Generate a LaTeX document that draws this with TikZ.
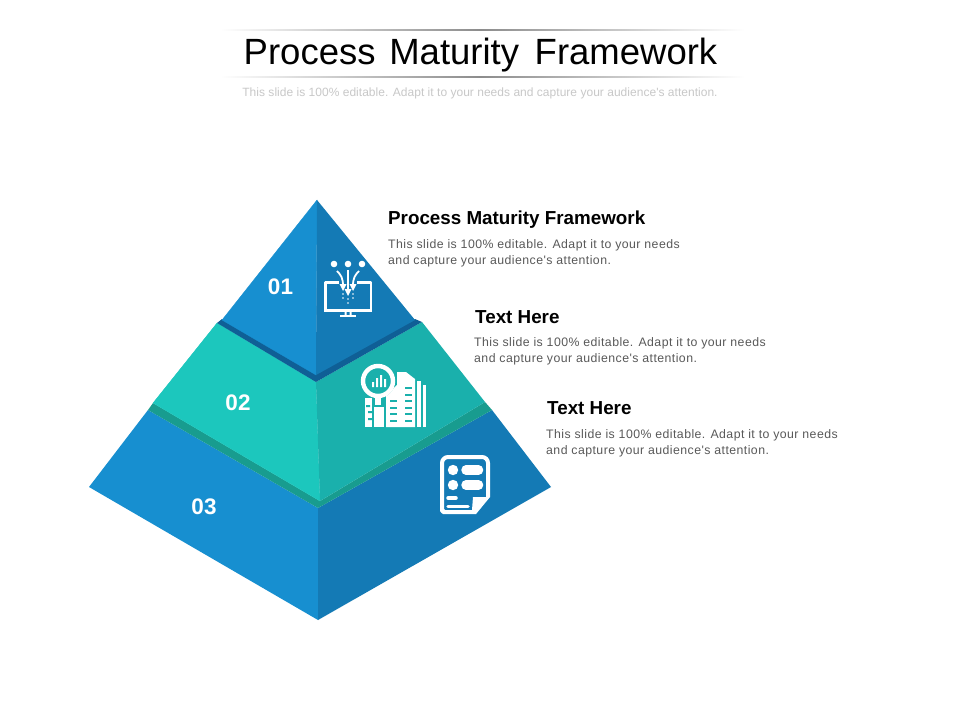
\documentclass[tikz,border=0pt]{standalone}
\usepackage{fontspec}
\setmainfont{Liberation Sans}
\newfontfamily\bodyfont[LetterSpace=3.6]{Liberation Sans}
\newfontfamily\subfont[LetterSpace=0.25]{Liberation Sans}
\definecolor{blueL}{HTML}{178FD0}
\definecolor{blueD}{HTML}{147AB5}
\definecolor{blueS}{HTML}{0F5F96}
\definecolor{tealL}{HTML}{1CC7BD}
\definecolor{tealD}{HTML}{1AB0AC}
\definecolor{tealS}{HTML}{189C8F}
\definecolor{subgrey}{HTML}{C8C8C8}
\definecolor{bodygrey}{HTML}{595959}
\definecolor{ruledark}{HTML}{8C8C8C}
\tikzset{
  titletext/.style={anchor=base,inner sep=0,font=\fontsize{36.5}{40}\selectfont,text=black},
  subtext/.style={anchor=base,inner sep=0,font=\subfont\fontsize{12}{14}\selectfont,text=subgrey},
  headtext/.style={anchor=base west,inner sep=0,font=\bfseries\fontsize{18.8}{22}\selectfont,text=black},
  bodytext/.style={anchor=north west,inner sep=0,align=left,font=\bodyfont\fontsize{12.3}{16}\selectfont,text=bodygrey},
  numtext/.style={anchor=center,inner sep=0,font=\bfseries\fontsize{22.5}{26}\selectfont,text=white},
  icon/.style={draw=white,line width=2.3pt,fill=none},
  rulehalf/.style={draw=none},
}
\begin{document}
\begin{tikzpicture}[x=1pt,y=-1pt]
\useasboundingbox (0,0) rectangle (960,720);
\fill[white] (0,0) rectangle (960,720);
% rules
\shade[rulehalf,left color=white,right color=ruledark] (220,29.2) rectangle (480,30.8);
\shade[rulehalf,left color=ruledark,right color=white] (480,29.2) rectangle (745,30.8);
\shade[rulehalf,left color=white,right color=ruledark] (220,76.2) rectangle (480,77.8);
\shade[rulehalf,left color=ruledark,right color=white] (480,76.2) rectangle (745,77.8);
\node[titletext] (title) at (480.5,64.5) {Process\hspace{0.1em} Maturity\hspace{0.15em} Framework};
\node[subtext] (sub) at (480,96) {This slide is 100\% editable. Adapt it to your needs and capture your audience's attention.};
% bottom tier
\fill[blueL] (148,410) -- (89,487) -- (318,620) -- (318,508) -- cycle;
\fill[blueD] (492,410) -- (551,487) -- (318,620) -- (318,508) -- cycle;
% middle shadow
\fill[tealS] (148,410) -- (153,403) -- (320,501) -- (485,402) -- (492,410) -- (318,508) -- cycle;
% middle tier
\filldraw[tealL,line width=0.3pt] (153,403) -- (217,323) -- (316,382) -- (320,501) -- cycle;
\fill[tealD] (485,402) -- (422,322) -- (316,382) -- (320,501) -- cycle;
% top shadow
\fill[blueS] (217,323) -- (222,319) -- (316,374) -- (415,319) -- (422,322) -- (316,382) -- cycle;
% top tier
\filldraw[blueL,line width=0.3pt] (317,200) -- (222,320) -- (316,375) -- cycle;
\fill[blueD] (317,200) -- (415,320) -- (316,375) -- cycle;
% numbers
\node[numtext] (n1) at (280.5,287) {01};
\node[numtext] (n2) at (238,403) {02};
\node[numtext] (n3) at (204,507) {03};
% texts
\node[headtext] (h1) at (388,224) {Process Maturity Framework};
\node[bodytext] (b1) at (388,239) {This slide is 100\% editable. Adapt it to your needs\\and capture your audience's attention.};
\node[headtext] (h2) at (475,323) {Text Here};
\node[bodytext] (b2) at (474,337) {This slide is 100\% editable. Adapt it to your needs\\and capture your audience's attention.};
\node[headtext] (h3) at (547,414) {Text Here};
\node[bodytext] (b3) at (546,429) {This slide is 100\% editable. Adapt it to your needs\\and capture your audience's attention.};
% icon 1 : monitor
\fill[white] (334,264) circle (3.3) (348,264) circle (3.3) (362,264) circle (3.3);
\draw[icon,line join=round] (339,282.5) -- (325.5,282.5) -- (325.5,310) -- (371,310) -- (371,282.5) -- (357,282.5);
\fill[white] (324.4,308.5) rectangle (372.1,311.5);
\fill[white] (344.5,310) rectangle (346.5,315) (349.5,310) rectangle (351.5,315);
\fill[white] (340,314.5) rectangle (356,316.5);
\draw[white,line width=1.8pt] (348,270) -- (348,291);
\draw[white,line width=1.8pt] (337,271) .. controls (341,275) and (343,278) .. (343,286);
\draw[white,line width=1.8pt] (359,271) .. controls (355,275) and (353,278) .. (353,286);
\fill[white] (339.5,284) -- (346.5,284) -- (343,291) -- cycle;
\fill[white] (349.5,284) -- (356.5,284) -- (353,291) -- cycle;
\fill[white] (344.5,289) -- (351.5,289) -- (348,296) -- cycle;
\fill[white] (343,294) circle (0.9) (343,298) circle (0.9) (353,294) circle (0.9) (353,298) circle (0.9) (348,299) circle (0.9) (348,303) circle (0.9);
% icon 2 : building and magnifier
\fill[white] (397,372) -- (406,372) -- (415,379) -- (415,427) -- (386,427) -- (386,395) -- (397,385) -- cycle;
\fill[white] (365,398) rectangle (372,427);
\fill[white] (374,407) rectangle (384,427);
\fill[white] (375,396) rectangle (381,405);
\fill[white] (417,381) rectangle (420.5,427);
\fill[white] (422.5,385) rectangle (425.5,427);
\foreach \yy in {387,393.5,400,406.5,413,419.5}{
  \fill[tealD] (405,\yy) rectangle (411.5,\yy+2);
}
\foreach \yy in {400,406.5,413,419.5}{
  \fill[tealD] (390,\yy) rectangle (397,\yy+2);
}
\fill[tealD] (366,405) rectangle (370,407) (368,411) rectangle (372,413) (368,418) rectangle (372,420);
\fill[tealD] (378,381) circle (17);
\draw[white,line width=4.4pt] (378,381) circle (15);
\fill[white] (372,382) rectangle (374,387) (376,378) rectangle (378,387) (380,375) rectangle (382,387) (384,379) rectangle (386,387);
% icon 3 : document
\draw[white,line width=4pt,line join=round,rounded corners=6] (476,512) -- (449,512) .. controls (445,512) and (442,509) .. (442,505) -- (442,457) -- (488,457) -- (488,497);
\fill[white] (488,495) -- (490,497) -- (476,514) -- (474,512) -- cycle;
\fill[white] (473,497) -- (488,497) -- (476,512) -- (472,510) -- cycle;
\fill[white] (453,470) circle (5.2) (453,485) circle (5.2);
\draw[white,line width=9.5pt,line cap=round] (466,470) -- (478.5,470) (466,485) -- (478.5,485);
\draw[white,line width=3.5pt,line cap=round] (448,498) -- (456,498) (448,506.5) -- (468,506.5);
\end{tikzpicture}
\end{document}
